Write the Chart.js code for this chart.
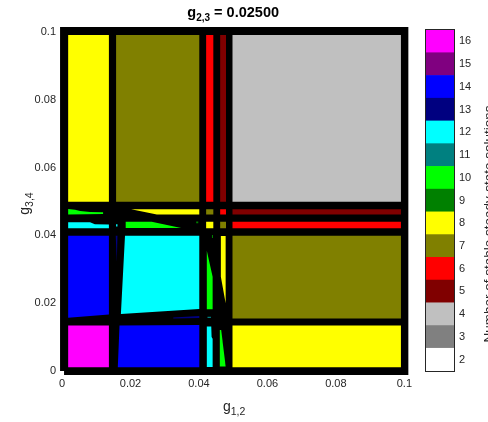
<!DOCTYPE html>
<html>
<head>
<meta charset="utf-8">
<script src="https://cdn.jsdelivr.net/npm/chart.js@4.4.1/dist/chart.umd.min.js"></script>
<style>
  html, body { margin: 0; padding: 0; background: #fff; overflow: hidden; }
  #wrap { position: relative; width: 488px; height: 422px; overflow: hidden; }
  #main { position: absolute; left: 0; top: 0; }
  #bar { position: absolute; left: 410px; top: 0; }
</style>
</head>
<body>
<div id="wrap">
  <canvas id="main" width="418" height="422"></canvas>
  <canvas id="bar" width="100" height="422"></canvas>
</div>
<script>
const titleParts = ['g', '2,3', ' = 0.02500'];
const xLabelParts = ['g', '1,2'];
const yLabelParts = ['g', '3,4'];
const barLabel = 'Number of stable steady-state solutions';
const axisTicks = [0, 0.02, 0.04, 0.06, 0.08, 0.1];
const solutionCounts = [2, 3, 4, 5, 6, 7, 8, 9, 10, 11, 12, 13, 14, 15, 16];
const countColors = ['#ffffff', '#808080', '#c0c0c0', '#800000', '#ff0000', '#808000', '#ffff00',
  '#008000', '#00ff00', '#008080', '#00ffff', '#000080', '#0000ff', '#800080', '#ff00ff'];

// outline of the black edges around everything
const frameX = [0.0006, 0.1, 0.1, 0.0006];
const frameY = [0, 0, 0.1003, 0.1003];

// [number of solutions, x corners, y corners]
const regions = [
  // top row
  [8, [0.0018, 0.0137, 0.0137, 0.0018], [0.0499, 0.0499, 0.0991, 0.0991]],
  [7, [0.0158, 0.0401, 0.0401, 0.0158], [0.0499, 0.0499, 0.0991, 0.0991]],
  [6, [0.0421, 0.0442, 0.0442, 0.0421], [0.0499, 0.0499, 0.0991, 0.0991]],
  [5, [0.0462, 0.0479, 0.0479, 0.0462], [0.0499, 0.0499, 0.0991, 0.0991]],
  [4, [0.0498, 0.0990, 0.0990, 0.0498], [0.0499, 0.0499, 0.0991, 0.0991]],
  // thin band near 0.047
  [10, [0.0018, 0.0038, 0.0053, 0.0082, 0.0120, 0.0120, 0.0018], [0.0478, 0.0476, 0.0472, 0.0469, 0.0468, 0.0463, 0.0462]],
  [8, [0.0202, 0.0401, 0.0401, 0.0277], [0.0477, 0.0477, 0.0462, 0.0462]],
  [7, [0.0421, 0.0442, 0.0442, 0.0421], [0.0462, 0.0462, 0.0477, 0.0477]],
  [6, [0.0462, 0.0479, 0.0479, 0.0462], [0.0462, 0.0462, 0.0477, 0.0477]],
  [5, [0.0498, 0.0990, 0.0990, 0.0498], [0.0462, 0.0462, 0.0477, 0.0477]],
  // thin band near 0.043
  [12, [0.0018, 0.0082, 0.0096, 0.0137, 0.0137, 0.0018], [0.0439, 0.0439, 0.0433, 0.0432, 0.0421, 0.0421]],
  [12, [0.0158, 0.0162, 0.0162, 0.0158], [0.0433, 0.0433, 0.0426, 0.0426]],
  [10, [0.0186, 0.0262, 0.0348, 0.0186], [0.0440, 0.0440, 0.0422, 0.0422]],
  [9, [0.0392, 0.0398, 0.0398, 0.0392], [0.0441, 0.0441, 0.0436, 0.0436]],
  [8, [0.0421, 0.0442, 0.0442, 0.0421], [0.0421, 0.0421, 0.0440, 0.0440]],
  [7, [0.0462, 0.0479, 0.0479, 0.0462], [0.0421, 0.0421, 0.0440, 0.0440]],
  [6, [0.0498, 0.0990, 0.0990, 0.0498], [0.0421, 0.0421, 0.0440, 0.0440]],
  // middle row
  [14, [0.0018, 0.0137, 0.0137, 0.0018], [0.0399, 0.0399, 0.0167, 0.0157]],
  [13, [0.0157, 0.0162, 0.0160], [0.0399, 0.0399, 0.0322]],
  [12, [0.0184, 0.0401, 0.0401, 0.0172], [0.0399, 0.0399, 0.0183, 0.0168]],
  [13, [0.0325, 0.0401, 0.0401, 0.0325], [0.0158, 0.0162, 0.0156, 0.0155]],
  [10, [0.0423, 0.0440, 0.0440, 0.0423], [0.0355, 0.0278, 0.0182, 0.0182]],
  [9, [0.0438, 0.0441, 0.0441, 0.0438], [0.0401, 0.0401, 0.0392, 0.0392]],
  [8, [0.0464, 0.0478, 0.0478, 0.0464], [0.0398, 0.0398, 0.0200, 0.0278]],
  [11, [0.0425, 0.0435, 0.0435, 0.0425], [0.0160, 0.0160, 0.0156, 0.0156]],
  [7, [0.0498, 0.0990, 0.0990, 0.0498], [0.0155, 0.0155, 0.0399, 0.0399]],
  // bottom row
  [16, [0.0018, 0.0137, 0.0137, 0.0018], [0.0011, 0.0011, 0.0134, 0.0134]],
  [14, [0.0168, 0.0401, 0.0401, 0.0163], [0.0134, 0.0136, 0.0011, 0.0011]],
  [12, [0.0423, 0.0436, 0.0437, 0.0440, 0.0440, 0.0423], [0.0131, 0.0131, 0.0100, 0.0095, 0.0012, 0.0012]],
  [10, [0.0461, 0.0465, 0.0478, 0.0461], [0.0121, 0.0121, 0.0013, 0.0013]],
  [8, [0.0498, 0.0990, 0.0990, 0.0498], [0.0011, 0.0011, 0.0134, 0.0134]]
];

Chart.defaults.font.family = '"Liberation Sans", Arial, sans-serif';
const FONT = '"Liberation Sans", Arial, sans-serif';

function toPoints(xs, ys) {
  const pts = xs.map((x, i) => ({x: x, y: ys[i]}));
  pts.push({x: xs[0], y: ys[0]});
  return pts;
}

const colorOf = n => countColors[solutionCounts.indexOf(n)];

const datasets = regions.map(r => ({
  data: toPoints(r[1], r[2]),
  showLine: true,
  fill: 'shape',
  backgroundColor: colorOf(r[0]),
  borderColor: 'transparent',
  borderWidth: 0,
  pointRadius: 0,
  order: 0
}));
datasets.push({
  data: toPoints(frameX, frameY),
  showLine: true,
  fill: 'shape',
  backgroundColor: '#000',
  borderColor: '#000',
  borderWidth: 8,
  pointRadius: 0,
  clip: false,
  order: 1
});

// text with a subscript part: [main, sub, rest]
function drawSubText(ctx, parts, size, subSize, bold) {
  const w = bold ? 'bold ' : '';
  const spec = [[parts[0], size, 0], [parts[1], subSize, 4]];
  if (parts[2]) spec.push([parts[2], size, 0]);
  let total = 0;
  spec.forEach(p => { ctx.font = w + p[1] + 'px ' + FONT; total += ctx.measureText(p[0]).width; });
  let x = -total / 2;
  spec.forEach(p => {
    ctx.font = w + p[1] + 'px ' + FONT;
    ctx.fillText(p[0], x, p[2]);
    x += ctx.measureText(p[0]).width;
  });
}

const labelsPlugin = {
  id: 'labels',
  afterDraw(chart) {
    const {ctx, chartArea} = chart;
    const cx = (chartArea.left + chartArea.right) / 2;
    const cy = (chartArea.top + chartArea.bottom) / 2;
    ctx.save();
    ctx.textAlign = 'left';
    ctx.textBaseline = 'alphabetic';
    ctx.fillStyle = '#000';
    ctx.translate(cx, 17);
    drawSubText(ctx, titleParts, 14.5, 10, true);
    ctx.restore();

    ctx.save();
    ctx.fillStyle = '#262626';
    ctx.translate(cx + 1, 411);
    drawSubText(ctx, xLabelParts, 14, 10.5, false);
    ctx.restore();

    ctx.save();
    ctx.fillStyle = '#262626';
    ctx.translate(29, cy + 2);
    ctx.rotate(-Math.PI / 2);
    drawSubText(ctx, yLabelParts, 14, 10.5, false);
    ctx.restore();
  }
};

const tickStyle = {color: '#262626', font: {size: 11}, maxRotation: 0,
  callback: v => String(+Number(v).toFixed(3))};

new Chart(document.getElementById('main'), {
  type: 'scatter',
  data: {datasets: datasets},
  options: {
    responsive: false,
    animation: false,
    events: [],
    layout: {padding: {left: 0, right: 6, top: 32, bottom: 0}},
    plugins: {legend: {display: false}, tooltip: {enabled: false}},
    scales: {
      x: {
        type: 'linear', min: 0, max: 0.1,
        afterBuildTicks: s => { s.ticks = axisTicks.map(v => ({value: v})); },
        afterFit: s => { s.height = 51; },
        grid: {display: false, drawTicks: false},
        border: {display: false},
        ticks: Object.assign({padding: 6}, tickStyle)
      },
      y: {
        type: 'linear', min: 0, max: 0.1,
        afterBuildTicks: s => { s.ticks = axisTicks.map(v => ({value: v})); },
        afterFit: s => { s.width = 62; },
        grid: {display: false, drawTicks: false},
        border: {display: false},
        ticks: Object.assign({padding: 6}, tickStyle)
      }
    }
  },
  plugins: [labelsPlugin]
});

const barPlugin = {
  id: 'barBox',
  afterDraw(chart) {
    const {ctx, chartArea: a} = chart;
    ctx.save();
    ctx.strokeStyle = '#262626';
    ctx.lineWidth = 1;
    ctx.strokeRect(a.left - 0.5, a.top - 0.5, a.right - a.left + 1, a.bottom - a.top + 1);
    ctx.fillStyle = '#262626';
    ctx.font = '13.5px ' + FONT;
    ctx.textAlign = 'center';
    ctx.translate(83, 224);
    ctx.rotate(-Math.PI / 2);
    ctx.fillText(barLabel, 0, 0);
    ctx.restore();
  }
};

new Chart(document.getElementById('bar'), {
  type: 'bar',
  data: {
    labels: [''],
    datasets: solutionCounts.map((n, i) => ({
      data: [[n - 0.5, n + 0.5]],
      backgroundColor: countColors[i],
      borderWidth: 0,
      barPercentage: 1,
      categoryPercentage: 1,
      grouped: false
    }))
  },
  options: {
    responsive: false,
    animation: false,
    events: [],
    layout: {padding: {left: 16, right: 0, top: 30, bottom: 51}},
    plugins: {legend: {display: false}, tooltip: {enabled: false}},
    scales: {
      x: {display: false},
      y: {
        position: 'right', min: 1.5, max: 16.5,
        afterBuildTicks: s => { s.ticks = solutionCounts.map(v => ({value: v})); },
        afterFit: s => { s.width = 56; },
        border: {display: false},
        grid: {drawOnChartArea: false, tickLength: -3, color: '#262626'},
        ticks: {color: '#262626', font: {size: 11}, padding: 8}
      }
    }
  },
  plugins: [barPlugin]
});
</script>
</body>
</html>
